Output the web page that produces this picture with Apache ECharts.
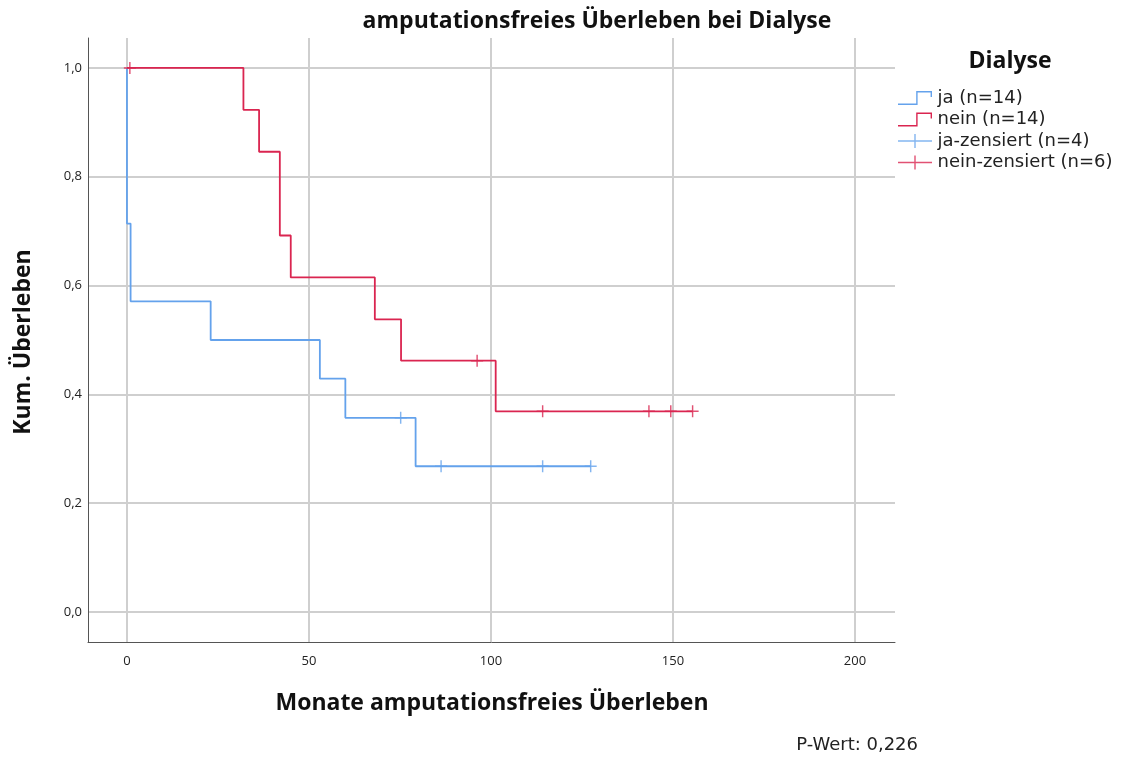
<!DOCTYPE html>
<html>
<head>
<meta charset="utf-8">
<script src="https://cdn.jsdelivr.net/npm/echarts@6/dist/echarts.min.js"></script>
<style>
html,body{margin:0;padding:0;background:#fff;}
#chart{width:1123px;height:758px;}
</style>
</head>
<body>
<div id="chart"></div>
<script>
// Kaplan-Meier step data: [Monate, Kum. Überleben]
var jaTimes = [0, 0, 1, 23, 53, 60, 79.3, 127.4];
var jaSurv  = [1.0, 0.714, 0.571, 0.500, 0.429, 0.357, 0.268, 0.268];
var neinTimes = [0, 32, 36.3, 42, 45, 68.1, 75.3, 101.3, 155.4];
var neinSurv  = [1.0, 0.923, 0.846, 0.692, 0.615, 0.538, 0.462, 0.369, 0.369];
var jaCensTimes = [75.2, 86.3, 114.2, 127.4];
var jaCensSurv  = [0.357, 0.268, 0.268, 0.268];
var neinCensTimes = [0.8, 96.2, 114.2, 143.4, 149.4, 155.4];
var neinCensSurv  = [1.0, 0.462, 0.369, 0.369, 0.369, 0.369];
var xTicks = [0, 50, 100, 150, 200];
var yTicks = [0, 0.2, 0.4, 0.6, 0.8, 1.0];
var seriesNames = ['ja (n=14)', 'nein (n=14)', 'ja-zensiert (n=4)', 'nein-zensiert (n=6)'];
var title = 'amputationsfreies Überleben bei Dialyse';
var xTitle = 'Monate amputationsfreies Überleben';
var yTitle = 'Kum. Überleben';
var legendTitle = 'Dialyse';
var pText = 'P-Wert: 0,226';

function zip(a, b) { return a.map(function (v, i) { return [v, b[i]]; }); }

var BLUE = '#64a2ec';
var RED = '#da2550';
var FONT = '"Open Sans", "DejaVu Sans", sans-serif';
var SMALL = '"DejaVu Sans", sans-serif';
var plusPath = 'path://M-0.12,-1H0.12V-0.12H1V0.12H0.12V1H-0.12V0.12H-1V-0.12H-0.12Z';
var stepIcon = 'path://M0,12.6L18.2,12.6L18.2,0L34,0L34,6L32.6,6L32.6,1.4L19.6,1.4L19.6,14L0,14Z';
var censIcon = 'path://M0,6.3H16.3V0H17.7V6.3H34V7.7H17.7V14H16.3V7.7H0Z';

var chart = echarts.init(document.getElementById('chart'));
var option = {
  animation: false,
  backgroundColor: '#fff',
  textStyle: { fontFamily: FONT },
  grid: { left: 88, right: 228, top: 38, bottom: 116, containLabel: false },
  xAxis: {
    type: 'value', min: -10.7, max: 211,
    axisLine: { show: true, onZero: false, lineStyle: { color: '#555', width: 1 } },
    axisTick: { show: false, customValues: xTicks },
    axisLabel: { customValues: xTicks, color: '#222', fontSize: 13, margin: 13, fontFamily: FONT },
    splitLine: { show: true, customValues: xTicks, lineStyle: { color: '#cfcfcf', width: 2 } }
  },
  yAxis: {
    type: 'value', min: -0.055, max: 1.055,
    axisLine: { show: true, onZero: false, lineStyle: { color: '#555', width: 1 } },
    axisTick: { show: false, customValues: yTicks },
    axisLabel: { customValues: yTicks, color: '#222', fontSize: 13, margin: 6, fontFamily: FONT,
      formatter: function (v) { return v.toFixed(1).replace('.', ','); } },
    splitLine: { show: true, customValues: yTicks, lineStyle: { color: '#cfcfcf', width: 2 } }
  },
  legend: {
    orient: 'vertical', left: 893, top: 84, itemWidth: 35, itemHeight: 14, itemGap: 3.5,
    textStyle: { fontSize: 18, color: '#222', fontFamily: SMALL },
    data: [
      { name: seriesNames[0], icon: stepIcon },
      { name: seriesNames[1], icon: stepIcon },
      { name: seriesNames[2], icon: censIcon },
      { name: seriesNames[3], icon: censIcon }
    ]
  },
  graphic: [
    { type: 'text', x: 597, y: 21, style: { text: title, font: 'bold 23px ' + FONT, fill: '#111', textAlign: 'center', textVerticalAlign: 'middle' } },
    { type: 'text', x: 492, y: 703, style: { text: xTitle, font: 'bold 23px ' + FONT, fill: '#111', textAlign: 'center', textVerticalAlign: 'middle' } },
    { type: 'text', x: 23, y: 342, rotation: Math.PI / 2, style: { text: yTitle, font: 'bold 23px ' + FONT, fill: '#111', textAlign: 'center', textVerticalAlign: 'middle' } },
    { type: 'text', x: 1010, y: 61, style: { text: legendTitle, font: 'bold 23px ' + FONT, fill: '#111', textAlign: 'center', textVerticalAlign: 'middle' } },
    { type: 'text', x: 918, y: 745, style: { text: pText, font: '18px ' + SMALL, fill: '#222', textAlign: 'right', textVerticalAlign: 'middle' } }
  ],
  series: [
    { name: seriesNames[0], type: 'line', step: 'end', data: zip(jaTimes, jaSurv), color: BLUE,
      showSymbol: false, lineStyle: { color: BLUE, width: 1.8 }, itemStyle: { color: BLUE }, z: 3 },
    { name: seriesNames[1], type: 'line', step: 'end', data: zip(neinTimes, neinSurv), color: RED,
      showSymbol: false, lineStyle: { color: RED, width: 1.8 }, itemStyle: { color: RED }, z: 3 },
    { name: seriesNames[2], type: 'scatter', data: zip(jaCensTimes, jaCensSurv), color: BLUE,
      symbol: plusPath, symbolSize: 12, itemStyle: { color: BLUE }, z: 4 },
    { name: seriesNames[3], type: 'scatter', data: zip(neinCensTimes, neinCensSurv), color: RED,
      symbol: plusPath, symbolSize: 12, itemStyle: { color: RED }, z: 4 }
  ]
};
chart.setOption(option);
</script>
</body>
</html>
